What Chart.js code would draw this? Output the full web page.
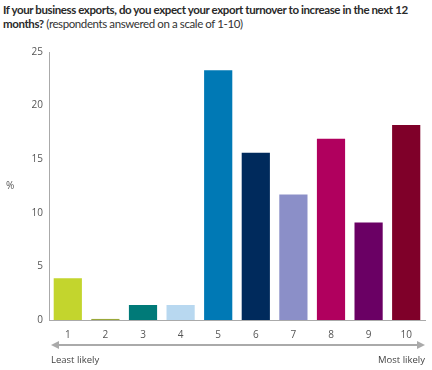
<!DOCTYPE html>
<html>
<head>
<meta charset="utf-8">
<script src="https://cdn.jsdelivr.net/npm/chart.js@4"></script>
<style>
  body { margin: 0; background: #fff; font-family: "Open Sans", sans-serif; }
  #title { position: absolute; left: 3px; top: 3px; width: 429px; font-family: Lato, sans-serif; font-size: 11.5px; line-height: 14px; color: #333; letter-spacing: -0.4px; white-space: nowrap; }
  #title b { color: #2a2a2a; }
  #wrap { position: absolute; left: 0; top: 38px; width: 432px; height: 332px; }
</style>
</head>
<body>
<div id="title"><b>If your business exports, do you expect your export turnover to increase in the next 12<br>months?</b> (respondents answered on a scale of 1-10)</div>
<div id="wrap"><canvas id="exportChart"></canvas></div>
<script>
// scale 1-10 answers, % of respondents
const scaleLabels = ['1', '2', '3', '4', '5', '6', '7', '8', '9', '10'];
const percentages = [3.9, 0.1, 1.4, 1.4, 23.3, 15.6, 11.7, 16.9, 9.1, 18.2];
const barColours = ['#c3d52d', '#9aa83a', '#007a78', '#b8d8f0', '#0079b5',
                    '#002a5c', '#8b8fc8', '#b0005e', '#6a0064', '#7f0029'];

// draws the "%" label and the least/most likely arrow under the axis
const extras = {
    id: 'extras',
    afterDraw(chart) {
        const ctx = chart.ctx;
        const area = chart.chartArea;
        ctx.save();
        ctx.fillStyle = '#555';
        ctx.font = '10px "Open Sans", sans-serif';
        ctx.textBaseline = 'middle';
        ctx.fillText('%', 6, (area.top + area.bottom) / 2);

        const y = area.bottom + 25;
        const x0 = area.left + 2, x1 = area.right;
        ctx.strokeStyle = '#aaa';
        ctx.fillStyle = '#aaa';
        ctx.lineWidth = 2;
        ctx.beginPath();
        ctx.moveTo(x0 + 6, y);
        ctx.lineTo(x1 - 6, y);
        ctx.stroke();
        ctx.beginPath();
        ctx.moveTo(x0, y); ctx.lineTo(x0 + 8, y - 4); ctx.lineTo(x0 + 8, y + 4); ctx.closePath();
        ctx.fill();
        ctx.beginPath();
        ctx.moveTo(x1, y); ctx.lineTo(x1 - 8, y - 4); ctx.lineTo(x1 - 8, y + 4); ctx.closePath();
        ctx.fill();

        ctx.fillStyle = '#444';
        ctx.font = '9.5px "Open Sans", sans-serif';
        ctx.textAlign = 'left';
        ctx.fillText('Least likely', x0, y + 15);
        ctx.textAlign = 'right';
        ctx.fillText('Most likely', x1, y + 15);
        ctx.restore();
    }
};

const ctx = document.getElementById('exportChart').getContext('2d');
new Chart(ctx, {
    type: 'bar',
    data: {
        labels: scaleLabels,
        datasets: [{
            label: '%',
            data: percentages,
            backgroundColor: barColours,
            barPercentage: 0.75,
            categoryPercentage: 1
        }]
    },
    options: {
        responsive: true,
        maintainAspectRatio: false,
        animation: false,
        layout: { padding: { top: 14, right: 7 } },
        plugins: {
            legend: { display: false },
            tooltip: { enabled: false }
        },
        scales: {
            x: {
                grid: { display: false, drawTicks: false },
                border: { color: '#aaa' },
                ticks: { color: '#555', font: { size: 10, family: 'Open Sans' }, padding: 9 },
                afterFit(scale) { scale.height = 50; }
            },
            y: {
                min: 0,
                max: 25,
                grid: { display: false, drawTicks: false },
                border: { color: '#aaa' },
                ticks: { stepSize: 5, color: '#555', font: { size: 10, family: 'Open Sans' }, padding: 6 },
                afterFit(scale) { scale.width = 49; }
            }
        }
    },
    plugins: [extras]
});
</script>
</body>
</html>
